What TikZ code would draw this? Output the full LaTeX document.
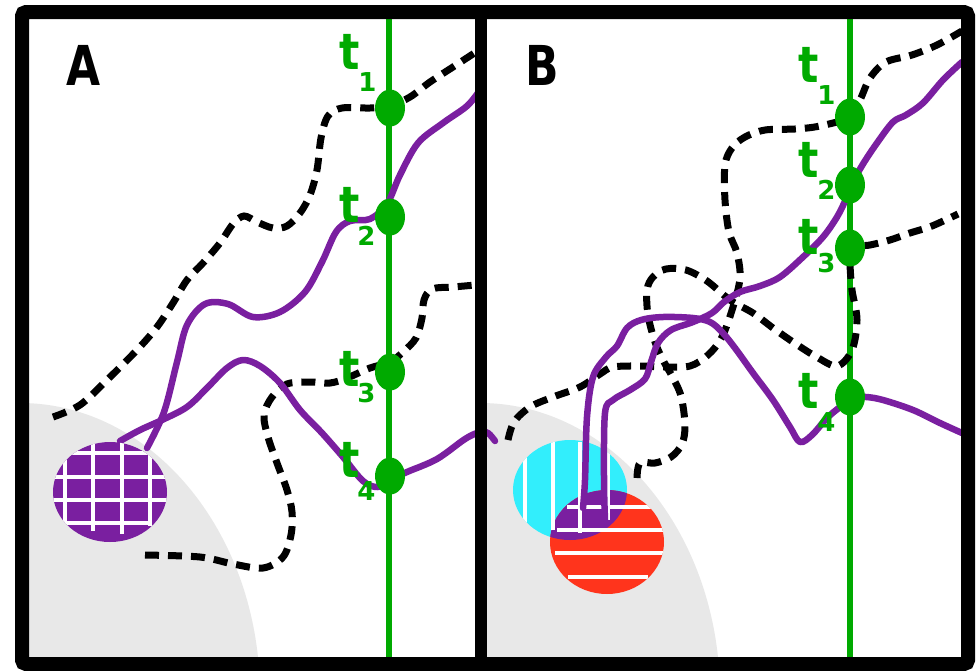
\documentclass[tikz,border=0pt]{standalone}
\usepackage{fontspec}
\setmainfont{DejaVu Sans}
\usetikzlibrary{shapes.geometric}
\definecolor{purp}{RGB}{122,31,160}
\definecolor{grn}{RGB}{0,170,0}
\definecolor{cyn}{RGB}{50,238,252}
\definecolor{rd}{RGB}{255,52,28}
\definecolor{gry}{RGB}{232,232,232}
\tikzset{
 purpline/.style={purp, line width=6.5pt, line cap=round, line join=round},
 blackdash/.style={black, line width=7pt, dash pattern=on 14pt off 9pt},
 greenline/.style={grn, line width=6pt},
 tdot/.style={ellipse, fill=grn, minimum width=30pt, minimum height=37pt, inner sep=0pt},
 tlbl/.style={text=grn, font=\fontsize{50}{50}\selectfont\bfseries, inner sep=0pt},
 tsub/.style={text=grn, font=\fontsize{26}{26}\selectfont\bfseries, inner sep=0pt},
 panellbl/.style={text=black, font=\fontsize{55}{55}\selectfont\bfseries, inner sep=0pt},
 stripe/.style={white, line width=4.5pt},
 frameline/.style={black, line width=14pt},
}
\newcommand{\tchar}{\scalebox{0.85}[1]{t}}
\begin{document}
\begin{tikzpicture}[x=1pt,y=-1pt]
\useasboundingbox (0,0) rectangle (980,670);
\fill[white] (0,0) rectangle (980,670);

% gray regions
\begin{scope}
\clip (28,20) rectangle (475,657);
\fill[gry] (20,695) ellipse [x radius=240pt, y radius=292pt];
\end{scope}
\begin{scope}
\clip (487,20) rectangle (961,657);
\fill[gry] (480,695) ellipse [x radius=240pt, y radius=292pt];
\end{scope}

% green time lines
\coordinate (gAtop) at (389,15);
\coordinate (gAbot) at (389,660);
\coordinate (gBtop) at (850,15);
\coordinate (gBbot) at (850,660);
\draw[greenline] (gAtop) -- (gAbot);
\draw[greenline] (gBtop) -- (gBbot);

% ---------- panel A ----------
% dashed paths
\draw[blackdash] plot[smooth, tension=0.55] coordinates {
 (53,417) (80,405) (107,380) (137,350) (157,327) (173,303) (187,280) (203,263)
 (220,243) (233,224) (244,216) (257,222) (273,228) (287,226) (300,213) (310,195)
 (317,170) (321,138) (328,116) (342,108) (370,108) (390,106) (410,97) (430,82)
 (453,67) (476,52)};
\draw[blackdash] plot[smooth, tension=0.55] coordinates {
 (145,555) (200,557) (233,564) (263,568) (283,557) (291,535) (292,512) (287,490)
 (277,463) (268,437) (264,415) (272,397) (287,384) (310,382) (330,383) (347,378)
 (370,368) (390,362) (403,352) (416,338) (422,318) (424,300) (432,289) (453,287)
 (476,285)};

% purple paths
\draw[purpline] plot[smooth, tension=0.55] coordinates {
 (147,448) (164,412) (177,362) (187,325) (205,304) (228,304) (253,317) (280,312)
 (305,292) (322,262) (336,232) (350,221) (370,219) (387,204) (400,175) (418,143)
 (443,123) (467,106) (480,90)};
\draw[purpline] plot[smooth, tension=0.55] coordinates {
 (120,441) (140,430) (162,420) (187,407) (207,388) (227,368) (243,360) (260,366)
 (280,383) (300,410) (322,433) (343,457) (363,481) (378,487) (392,479) (407,472)
 (437,459) (465,439) (480,432) (488,433) (495,441)};

% grid ellipse A
\begin{scope}
\clip (110,492) ellipse [x radius=57pt, y radius=50pt];
\fill[purp] (50,438) rectangle (170,545);
\draw[stripe] (65,452) -- (65,524);
\draw[stripe] (93,438) -- (93,531);
\draw[stripe] (122,438) -- (122,534);
\draw[stripe] (150,452) -- (150,526);
\draw[stripe] (63,453) -- (153,453);
\draw[stripe] (50,477) -- (170,477);
\draw[stripe] (50,500) -- (170,500);
\draw[stripe] (65,523) -- (151,523);
\end{scope}

% ---------- panel B ----------
\draw[blackdash] plot[smooth, tension=0.55] coordinates {
 (508,440) (514,422) (530,407) (553,397) (580,387) (600,374) (613,367) (640,366)
 (665,367) (690,366) (708,355) (722,337) (733,307) (740,278) (737,253) (729,232)
 (725,200) (725,165) (732,148) (745,137) (765,130) (795,129) (820,126) (850,117)
 (860,100) (870,78) (886,62) (912,55) (937,45) (962,31)};
\draw[blackdash] plot[smooth, tension=0.55] coordinates {
 (637,478) (640,463) (655,463) (671,457) (682,444) (685,425) (681,396) (672,376)
 (664,362) (655,342) (648,315) (647,290) (653,277) (666,269) (686,270) (707,281)
 (730,300) (753,313) (773,328) (793,342) (815,356) (837,366) (852,350) (857,320)
 (852,290) (850,265) (850,248) (870,245) (890,240) (910,233) (932,226) (958,214)};

% overlapping ellipses
\fill[cyn] (570,490) ellipse [x radius=57pt, y radius=50pt];
\fill[rd] (607,542) ellipse [x radius=57pt, y radius=52pt];
\begin{scope}
\clip (570,490) ellipse [x radius=57pt, y radius=50pt];
\fill[purp] (607,542) ellipse [x radius=57pt, y radius=52pt];
\draw[stripe] (525,452) -- (525,523);
\draw[stripe] (553,440) -- (553,530);
\draw[stripe] (580,442) -- (580,533);
\draw[stripe] (608,452) -- (608,520);
\end{scope}
\begin{scope}
\clip (607,542) ellipse [x radius=57pt, y radius=52pt];
\draw[stripe] (567,507) -- (653,507);
\draw[stripe] (557,530) -- (665,530);
\draw[stripe] (555,553) -- (665,553);
\draw[stripe] (568,577) -- (648,577);
\end{scope}

% purple paths B
\draw[purpline] plot[smooth, tension=0.55] coordinates {
 (583,508) (585,480) (587,417) (593,377) (606,357) (617,346) (627,328) (641,320)
 (663,317) (693,318) (710,322) (722,332) (735,348) (753,373) (773,400) (790,427)
 (800,442) (812,435) (827,418) (840,407) (852,398) (866,397) (883,400) (913,410)
 (940,423) (962,433)};
\draw[purpline] plot[smooth, tension=0.55] coordinates {
 (605,520) (604,480) (605,413) (613,400) (630,390) (645,379) (651,362) (658,343)
 (671,330) (693,322) (712,313) (724,302) (740,292) (760,286) (780,277) (803,257)
 (823,237) (837,217) (846,199) (853,182) (863,164) (877,143) (893,122) (906,115)
 (923,103) (943,80) (962,62)};

% green dots
\node[tdot] (a1) at (390,108) {};
\node[tdot] (a2) at (390,217) {};
\node[tdot] (a3) at (390,372) {};
\node[tdot] (a4) at (390,476) {};
\node[tdot] (b1) at (850,117) {};
\node[tdot] (b2) at (850,185) {};
\node[tdot] (b3) at (850,248) {};
\node[tdot] (b4) at (850,397) {};

% labels
\node[tlbl] (ta1) at (350,51.5) {\tchar};
\node[tsub] (sa1) at (367.5,82.5) {1};
\node[tlbl] (ta2) at (350,205) {\tchar};
\node[tsub] (sa2) at (366.5,236) {2};
\node[tlbl] (ta3) at (350,368.5) {\tchar};
\node[tsub] (sa3) at (366.5,393.5) {3};
\node[tlbl] (ta4) at (350,460) {\tchar};
\node[tsub] (sa4) at (366.5,491) {4};
\node[tlbl] (tb1) at (808.5,65) {\tchar};
\node[tsub] (sb1) at (826.5,95) {1};
\node[tlbl] (tb2) at (808.5,160) {\tchar};
\node[tsub] (sb2) at (826.5,190) {2};
\node[tlbl] (tb3) at (808.5,236.5) {\tchar};
\node[tsub] (sb3) at (826.5,263.5) {3};
\node[tlbl] (tb4) at (808.5,390.5) {\tchar};
\node[tsub] (sb4) at (826.5,422.5) {4};

\node[panellbl] (lA) at (84,65) {\scalebox{0.8}[1]{A}};
\node[panellbl] (lB) at (542,65) {\scalebox{0.8}[1]{B}};

% frame
\draw[frameline, rounded corners=4pt] (22,12) rectangle (968,664);
\draw[black, line width=12pt] (481,12) -- (481,664);
\end{tikzpicture}
\end{document}
